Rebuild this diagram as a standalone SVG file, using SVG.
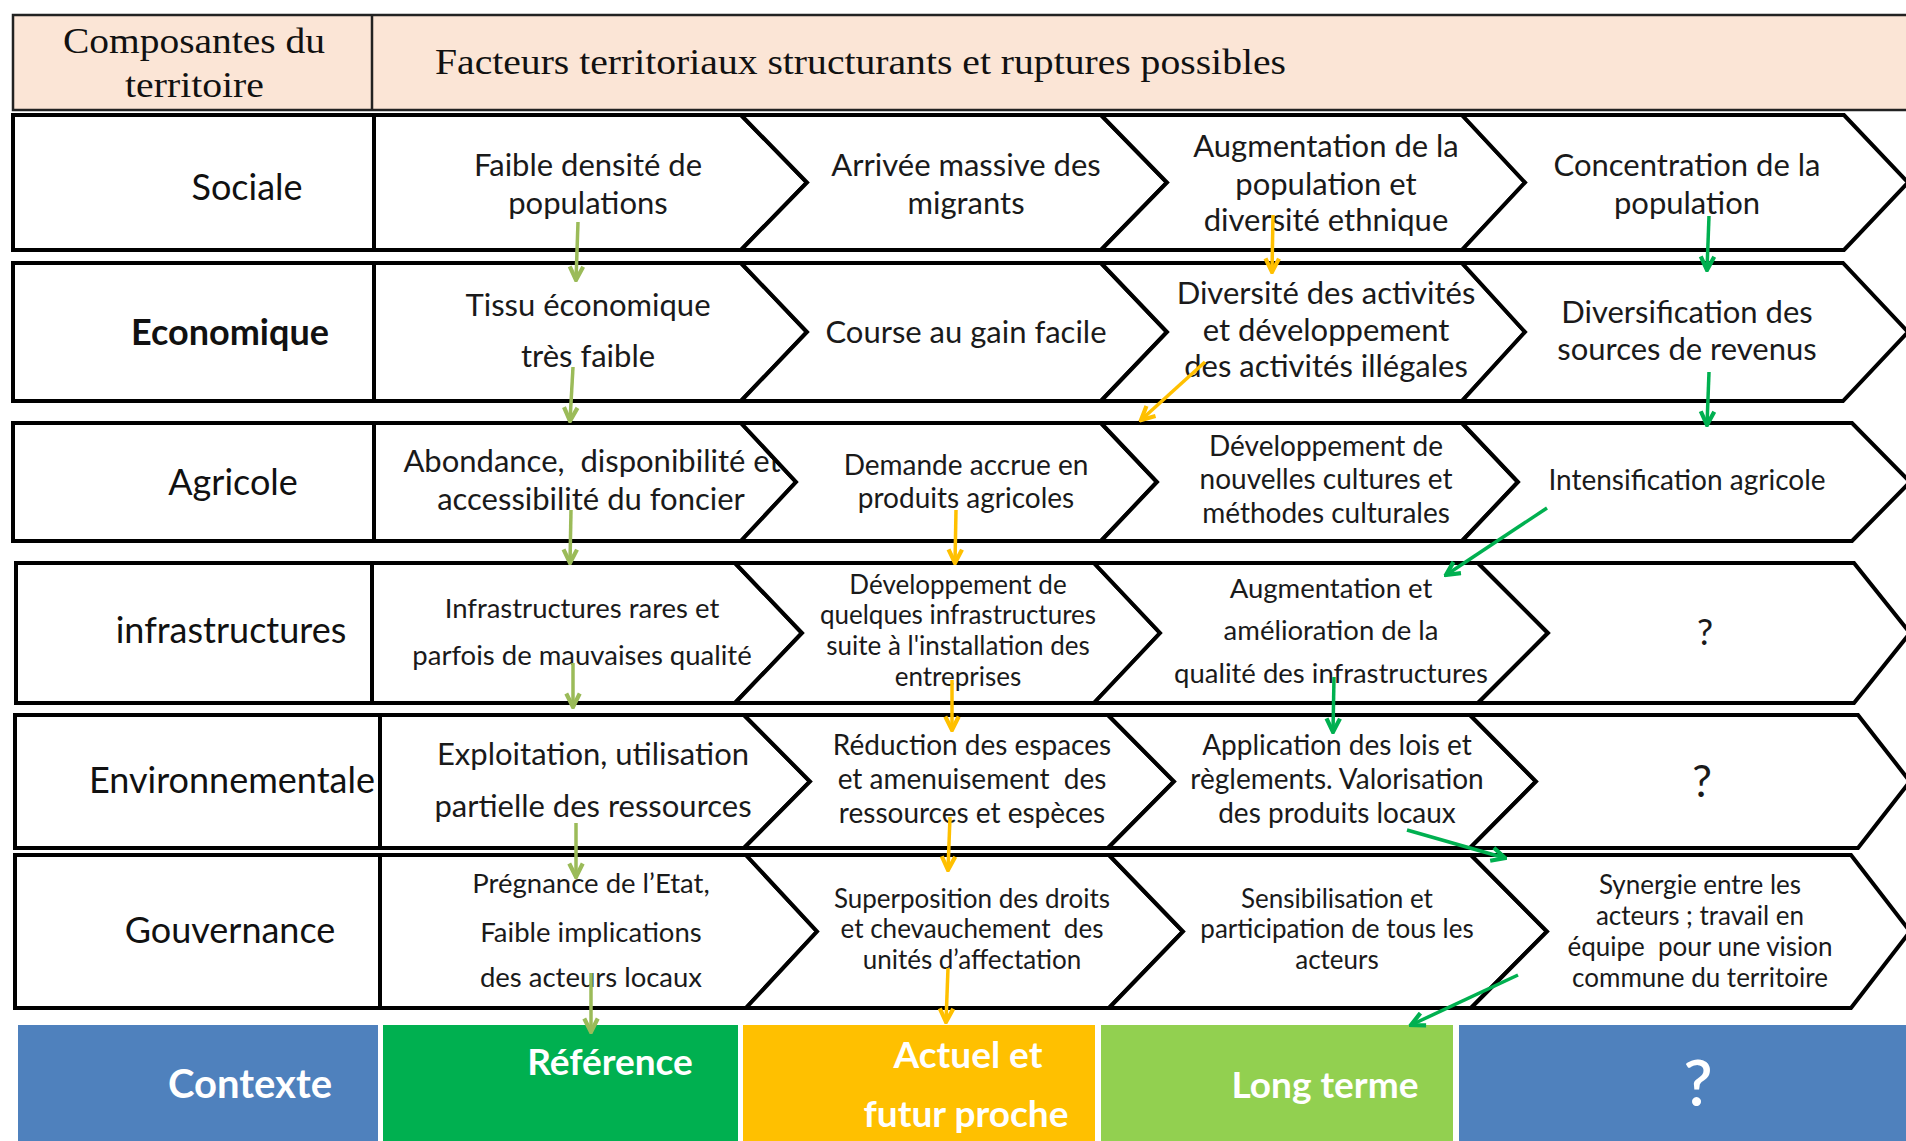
<svg xmlns="http://www.w3.org/2000/svg" width="1906" height="1141" viewBox="0 0 1906 1141">
<style>
.frame{fill:#fff;stroke:#000;stroke-width:4;stroke-linejoin:miter}
.hdrbox{fill:#FBE5D6;stroke:#222;stroke-width:2.5}
.hdr{font-family:"Liberation Serif",serif;font-size:36px;fill:#111}
.lbl{font-family:Lato,"Liberation Sans",sans-serif;font-size:36px;fill:#111;text-anchor:middle}
.b{font-weight:bold}
.t{font-family:Lato,"Liberation Sans",sans-serif;fill:#1a1a1a;text-anchor:middle}
.s31{font-size:31px}.s28{font-size:28px}.s27{font-size:27.5px}.s26{font-size:26px}
.bar{font-family:Lato,"Liberation Sans",sans-serif;font-weight:bold;fill:#fff;text-anchor:middle;font-size:37px}
.lg{stroke:#9BBB59;stroke-width:3.5;fill:none}
.or{stroke:#FFC000;stroke-width:3.5;fill:none}
.gr{stroke:#00B050;stroke-width:3.5;fill:none}
</style>
<defs>
<marker id="mlg" viewBox="0 0 12 12" refX="10.5" refY="6" markerWidth="18" markerHeight="18" markerUnits="userSpaceOnUse" orient="auto"><path d="M1.5,1.5 L10.5,6 L1.5,10.5" fill="none" stroke="#9BBB59" stroke-width="2.8"/></marker>
<marker id="mor" viewBox="0 0 12 12" refX="10.5" refY="6" markerWidth="18" markerHeight="18" markerUnits="userSpaceOnUse" orient="auto"><path d="M1.5,1.5 L10.5,6 L1.5,10.5" fill="none" stroke="#FFC000" stroke-width="2.8"/></marker>
<marker id="mgr" viewBox="0 0 12 12" refX="10.5" refY="6" markerWidth="18" markerHeight="18" markerUnits="userSpaceOnUse" orient="auto"><path d="M1.5,1.5 L10.5,6 L1.5,10.5" fill="none" stroke="#00B050" stroke-width="2.8"/></marker>
</defs>
<rect width="1906" height="1141" fill="#fff"/>

<g id="header">
<rect class="hdrbox" x="13" y="15" width="1900" height="95"/>
<line x1="372" y1="15" x2="372" y2="110" stroke="#222" stroke-width="2.5"/>
<text class="hdr" x="63" y="53" textLength="262" lengthAdjust="spacingAndGlyphs">Composantes du</text>
<text class="hdr" x="125" y="97" textLength="139" lengthAdjust="spacingAndGlyphs">territoire</text>
<text class="hdr" x="435" y="74" textLength="851" lengthAdjust="spacingAndGlyphs">Facteurs territoriaux structurants et ruptures possibles</text>
</g>

<!-- Row Sociale -->
<g id="row-sociale">
<g id="lbl-sociale"><rect class="frame" x="13" y="115" width="361" height="135"/><text class="lbl" x="247" y="200">Sociale</text></g>
<g id="soc-1"><polygon class="frame" points="374,115 741,115 807,182.5 741,250 374,250"/><text class="t s31" x="588" y="176">Faible densité de</text><text class="t s31" x="588" y="214">populations</text></g>
<g id="soc-2"><polygon class="frame" points="741,115 1101,115 1167,182.5 1101,250 741,250 807,182.5"/><text class="t s31" x="966" y="176">Arrivée massive des</text><text class="t s31" x="966" y="214">migrants</text></g>
<g id="soc-3"><polygon class="frame" points="1101,115 1462,115 1525,182.5 1462,250 1101,250 1167,182.5"/><text class="t s31" x="1326" y="157">Augmentation de la</text><text class="t s31" x="1326" y="195">population et</text><text class="t s31" x="1326" y="231">diversité ethnique</text></g>
<g id="soc-4"><polygon class="frame" points="1462,115 1844,115 1908,182.5 1844,250 1462,250 1525,182.5"/><text class="t s31" x="1687" y="176">Concentration de la</text><text class="t s31" x="1687" y="214">population</text></g>
</g>

<!-- Row Economique -->
<g id="row-economique">
<g id="lbl-economique"><rect class="frame" x="13" y="263" width="361" height="138"/><text class="lbl b" x="230" y="345">Economique</text></g>
<g id="eco-1"><polygon class="frame" points="374,263 741,263 807,332 741,401 374,401"/><text class="t s31" x="588" y="316">Tissu économique</text><text class="t s31" x="588" y="367">très faible</text></g>
<g id="eco-2"><polygon class="frame" points="741,263 1101,263 1167,332 1101,401 741,401 807,332"/><text class="t s31" x="966" y="343">Course au gain facile</text></g>
<g id="eco-3"><polygon class="frame" points="1101,263 1462,263 1525,332 1462,401 1101,401 1167,332"/><text class="t s31" x="1326" y="304">Diversité des activités</text><text class="t s31" x="1326" y="341">et développement</text><text class="t s31" x="1326" y="377">des activités illégales</text></g>
<g id="eco-4"><polygon class="frame" points="1462,263 1843,263 1908,332 1843,401 1462,401 1525,332"/><text class="t s31" x="1687" y="323">Diversification des</text><text class="t s31" x="1687" y="360">sources de revenus</text></g>
</g>

<!-- Row Agricole -->
<g id="row-agricole">
<g id="lbl-agricole"><rect class="frame" x="13" y="423" width="361" height="118"/><text class="lbl" x="233" y="495">Agricole</text></g>
<g id="agr-1"><polygon class="frame" points="374,423 741,423 796,482 741,541 374,541"/><text class="t s31" x="592" y="472" xml:space="preserve">Abondance,  disponibilité et</text><text class="t s31" x="591" y="510">accessibilité du foncier</text></g>
<g id="agr-2"><polygon class="frame" points="741,423 1101,423 1157,482 1101,541 741,541 796,482"/><text class="t s28" x="966" y="475">Demande accrue en</text><text class="t s28" x="966" y="508">produits agricoles</text></g>
<g id="agr-3"><polygon class="frame" points="1101,423 1462,423 1518,482 1462,541 1101,541 1157,482"/><text class="t s28" x="1326" y="456">Développement de</text><text class="t s28" x="1326" y="489">nouvelles cultures et</text><text class="t s28" x="1326" y="523">méthodes culturales</text></g>
<g id="agr-4"><polygon class="frame" points="1462,423 1852,423 1910,482 1852,541 1462,541 1518,482"/><text class="t s28" x="1687" y="490">Intensification agricole</text></g>
</g>

<!-- Row infrastructures -->
<g id="row-infrastructures">
<g id="lbl-infrastructures"><rect class="frame" x="16" y="563" width="356" height="140"/><text class="lbl" x="231" y="643">infrastructures</text></g>
<g id="inf-1"><polygon class="frame" points="372,563 735,563 802,633 735,703 372,703"/><text class="t s27" x="582" y="618">Infrastructures rares et</text><text class="t s27" x="582" y="665">parfois de mauvaises qualité</text></g>
<g id="inf-2"><polygon class="frame" points="735,563 1094,563 1160,633 1094,703 735,703 802,633"/><text class="t s26" x="958" y="594">Développement de</text><text class="t s26" x="958" y="624">quelques infrastructures</text><text class="t s26" x="958" y="655">suite à l'installation des</text><text class="t s26" x="958" y="686">entreprises</text></g>
<g id="inf-3"><polygon class="frame" points="1094,563 1478,563 1548,633 1478,703 1094,703 1160,633"/><text class="t s27" x="1331" y="598">Augmentation et</text><text class="t s27" x="1331" y="640">amélioration de la</text><text class="t s27" x="1331" y="683">qualité des infrastructures</text></g>
<g id="inf-4"><polygon class="frame" points="1478,563 1854,563 1910,633 1854,703 1478,703 1548,633"/><text class="t" x="1705" y="645" style="font-size:36px">?</text></g>
</g>

<!-- Row Environnementale -->
<g id="row-environnementale">
<g id="lbl-environnementale"><rect class="frame" x="15" y="715" width="365" height="133"/><text class="lbl" x="232" y="793">Environnementale</text></g>
<g id="env-1"><polygon class="frame" points="380,715 744,715 810,781.5 744,848 380,848"/><text class="t s31" x="593" y="765">Exploitation, utilisation</text><text class="t s31" x="593" y="817">partielle des ressources</text></g>
<g id="env-2"><polygon class="frame" points="744,715 1108,715 1174,781.5 1108,848 744,848 810,781.5"/><text class="t s28" x="972" y="755">Réduction des espaces</text><text class="t s28" x="972" y="789" xml:space="preserve">et amenuisement  des</text><text class="t s28" x="972" y="823">ressources et espèces</text></g>
<g id="env-3"><polygon class="frame" points="1108,715 1470,715 1536,781.5 1470,848 1108,848 1174,781.5"/><text class="t s28" x="1337" y="755">Application des lois et</text><text class="t s28" x="1337" y="789">règlements. Valorisation</text><text class="t s28" x="1337" y="823">des produits locaux</text></g>
<g id="env-4"><polygon class="frame" points="1470,715 1858,715 1910,781.5 1858,848 1470,848 1536,781.5"/><text class="t" x="1702" y="797" style="font-size:44px">?</text></g>
</g>

<!-- Row Gouvernance -->
<g id="row-gouvernance">
<g id="lbl-gouvernance"><rect class="frame" x="15" y="855" width="365" height="153"/><text class="lbl" x="230" y="943">Gouvernance</text></g>
<g id="gov-1"><polygon class="frame" points="380,855 746,855 817,931.5 746,1008 380,1008"/><text class="t s27" x="591" y="893">Prégnance de l’Etat,</text><text class="t s27" x="591" y="942">Faible implications</text><text class="t s27" x="591" y="987">des acteurs locaux</text></g>
<g id="gov-2"><polygon class="frame" points="746,855 1109,855 1183,931.5 1109,1008 746,1008 817,931.5"/><text class="t s26" x="972" y="908">Superposition des droits</text><text class="t s26" x="972" y="938" xml:space="preserve">et chevauchement  des</text><text class="t s26" x="972" y="969">unités d’affectation</text></g>
<g id="gov-3"><polygon class="frame" points="1109,855 1471,855 1547,931.5 1471,1008 1109,1008 1183,931.5"/><text class="t s26" x="1337" y="908">Sensibilisation et</text><text class="t s26" x="1337" y="938">participation de tous les</text><text class="t s26" x="1337" y="969">acteurs</text></g>
<g id="gov-4"><polygon class="frame" points="1471,855 1851,855 1910,931.5 1851,1008 1471,1008 1547,931.5"/><text class="t s26" x="1700" y="894">Synergie entre les</text><text class="t s26" x="1700" y="925">acteurs ; travail en</text><text class="t s26" x="1700" y="956" xml:space="preserve">équipe  pour une vision</text><text class="t s26" x="1700" y="987">commune du territoire</text></g>
</g>

<!-- Bottom bar -->
<g id="bar-contexte"><rect x="18" y="1025" width="360" height="120" fill="#4F81BD"/><text class="bar" x="250" y="1098" style="font-size:40px">Contexte</text></g>
<g id="bar-reference"><rect x="383" y="1025" width="355" height="120" fill="#00B050"/><text class="bar" x="610" y="1075">Référence</text></g>
<g id="bar-actuel"><rect x="743" y="1025" width="352" height="120" fill="#FFC000"/><text class="bar" x="968" y="1068">Actuel et</text><text class="bar" x="966" y="1127">futur proche</text></g>
<g id="bar-longterme"><rect x="1101" y="1025" width="352" height="120" fill="#92D050"/><text class="bar" x="1325" y="1098">Long terme</text></g>
<g id="bar-question"><rect x="1459" y="1025" width="450" height="120" fill="#4F81BD"/><text class="bar" x="1698" y="1106" style="font-size:64px;font-weight:600">?</text></g>

<g id="connectors">
<line class="lg" x1="578" y1="222" x2="576" y2="280" marker-end="url(#mlg)"/>
<line class="lg" x1="573" y1="367" x2="570" y2="421" marker-end="url(#mlg)"/>
<line class="lg" x1="571" y1="510" x2="570" y2="563" marker-end="url(#mlg)"/>
<line class="lg" x1="573" y1="663" x2="573" y2="707" marker-end="url(#mlg)"/>
<line class="lg" x1="576" y1="823" x2="576" y2="877" marker-end="url(#mlg)"/>
<line class="lg" x1="591" y1="973" x2="591" y2="1032" marker-end="url(#mlg)"/>
<line class="or" x1="1273" y1="215" x2="1272" y2="272" marker-end="url(#mor)"/>
<line class="or" x1="1205" y1="362" x2="1141" y2="420" marker-end="url(#mor)"/>
<line class="or" x1="956" y1="510" x2="955" y2="563" marker-end="url(#mor)"/>
<line class="or" x1="952" y1="680" x2="952" y2="730" marker-end="url(#mor)"/>
<line class="or" x1="950" y1="817" x2="948" y2="870" marker-end="url(#mor)"/>
<line class="or" x1="948" y1="968" x2="946" y2="1022" marker-end="url(#mor)"/>
<line class="gr" x1="1709" y1="216" x2="1707" y2="270" marker-end="url(#mgr)"/>
<line class="gr" x1="1709" y1="372" x2="1707" y2="425" marker-end="url(#mgr)"/>
<line class="gr" x1="1547" y1="508" x2="1446" y2="575" marker-end="url(#mgr)"/>
<line class="gr" x1="1334" y1="677" x2="1333" y2="732" marker-end="url(#mgr)"/>
<line class="gr" x1="1407" y1="830" x2="1505" y2="858" marker-end="url(#mgr)"/>
<line class="gr" x1="1518" y1="975" x2="1411" y2="1025" marker-end="url(#mgr)"/>
</g>
</svg>
